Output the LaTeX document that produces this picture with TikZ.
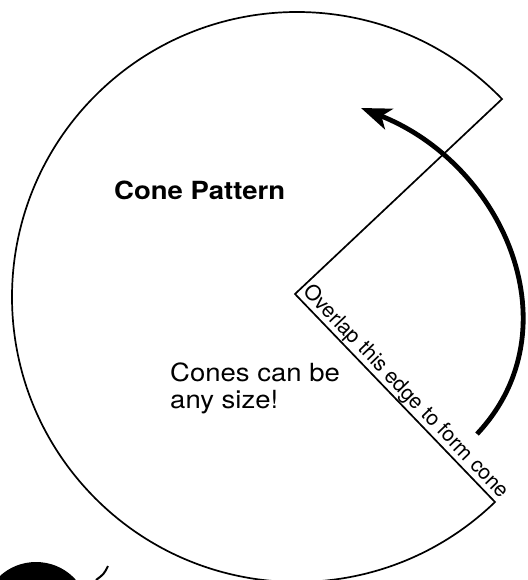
\documentclass[tikz,border=0pt]{standalone}
\usepackage{fontspec}
\setmainfont{TeX Gyre Heros}
\usetikzlibrary{arrows.meta}

\begin{document}
\begin{tikzpicture}[x=1pt, y=-1pt]
% Cone pattern sheet, coordinates in pixels (y grows downwards)
\def\conerad{285}
\providecommand{\conePatternLineColor}{black}
\providecommand{\conePatternLineWidth}{1.7pt}
\providecommand{\conePatternArrowWidth}{4.8pt}
\tikzset{
  patterntitle/.style={font=\bfseries\fontsize{25}{29}\selectfont, xscale=1.1, transform shape, inner sep=0pt},
  patternnote/.style={font=\fontsize{25}{27}\selectfont, xscale=1.1, transform shape, inner sep=0pt, align=left},
  edgenote/.style={font=\fontsize{21}{24}\selectfont, sloped, above, inner sep=1.5pt},
}
% Page frame
\useasboundingbox (0,0) rectangle (527,580);
\begin{scope}[draw=\conePatternLineColor, line cap=round, line join=miter]
  % Corners of the wedge cut out of the disc
  \coordinate (centre) at (297,297);
  \coordinate (apex) at (295,294);
  \path (centre) ++(-44:\conerad) coordinate (upper);
  % Outline: long arc, then back to the apex and out again
  \draw[line width=\conePatternLineWidth] (upper)
    arc[start angle=-44, end angle=-314, radius=\conerad] coordinate (lower)
    -- (apex) -- cycle;
  % Label along the lower edge
  \path (apex) -- (lower) node[edgenote, pos=0.51] (edgelabel) {Overlap this edge to form cone};
\end{scope}
% Texts inside the pattern
\node[patterntitle, anchor=base west] (title) at (114,199) {Cone Pattern};
\node[patternnote, anchor=base west] (note) at (170,408) {Cones can be\\any size!};
% Curved arrow across the gap
\coordinate (tail) at (477,434);
\coordinate (head) at (361,108);
\draw[line width=\conePatternArrowWidth, line cap=butt,
  -{Stealth[length=30pt, width=22pt, inset=8pt]}]
  (tail) .. controls (575,330) and (505,165) .. (head);
% Corner of the next sheet
\fill (36,612) ellipse [x radius=52, y radius=50];
\draw[line width=2pt] (108,566) .. controls (104,574) .. (96,580);
\end{tikzpicture}
\end{document}
